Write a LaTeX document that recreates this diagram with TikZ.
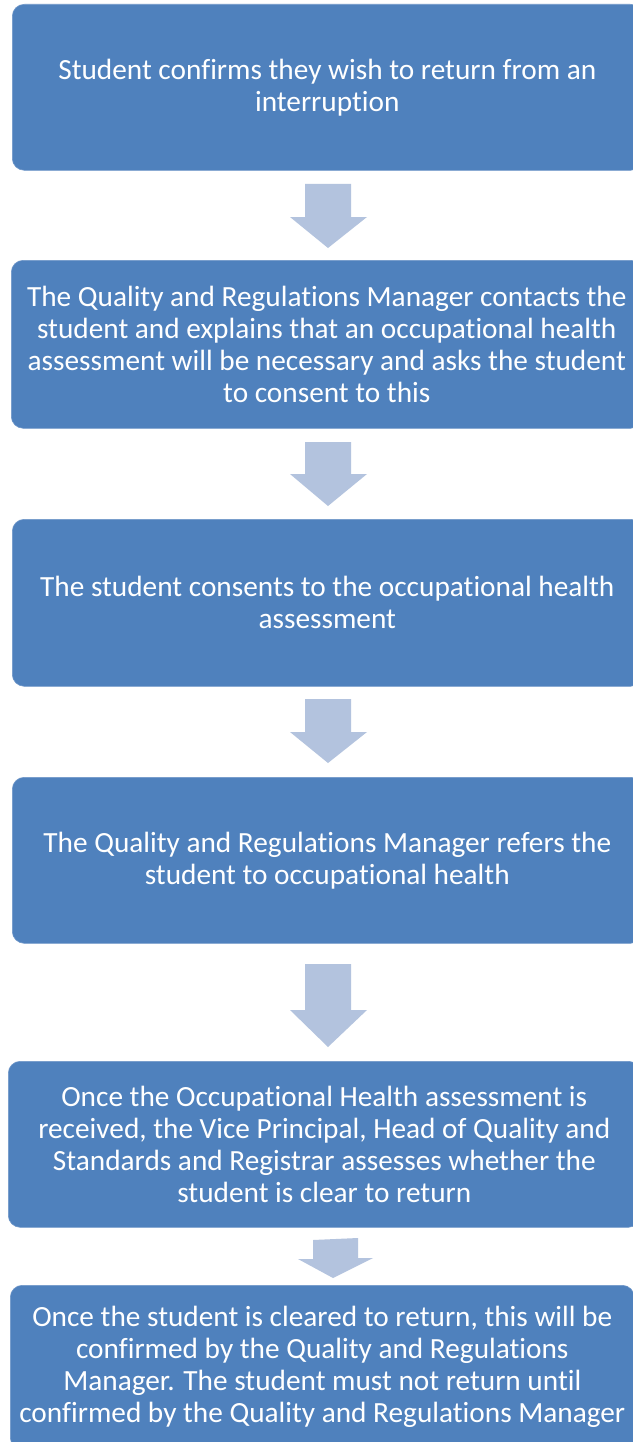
\documentclass[tikz,border=0pt]{standalone}
\usepackage{fontspec}
\setmainfont{Carlito}[Ligatures={NoCommon}]
\definecolor{boxblue}{HTML}{4F81BD}
\definecolor{boxedge}{HTML}{6F97C9}
\definecolor{arrowblue}{HTML}{B3C3DE}
\tikzset{
  stepbox/.style={fill=boxblue, draw=boxedge, line width=0.6bp, rounded corners=12bp,
    text=white, align=center, font=\fontsize{29.3bp}{32bp}\selectfont,
    inner sep=0pt, anchor=north west},
  blockarrow/.style={fill=arrowblue, draw=none}
}
% #1 shaft top, #2 head start, #3 tip (y, from top)
\newcommand{\downblock}[3]{%
  \fill[blockarrow] (305,#1) -- (351,#1) -- (351,#2) -- (367,#2) -- (328,#3)
    -- (290,#2) -- (305,#2) -- cycle;}
\begin{document}
\begin{tikzpicture}[x=1bp,y=-1bp]
\useasboundingbox (0,0) rectangle (633,1442);
\fill[white] (0,0) rectangle (633,1442);
\begin{scope}
\clip (0,0) rectangle (633,1442);
\node[stepbox, minimum width=630bp, minimum height=166bp] (b1) at (12,4)
  {Student confirms they wish to return from an\\interruption};
\node[stepbox, minimum width=631bp, minimum height=168bp] (b2) at (11,260)
  {The Quality and Regulations Manager contacts the\\student and explains that an occupational health\\assessment will be necessary and asks the student\\to consent to this};
\node[stepbox, minimum width=630bp, minimum height=167bp] (b3) at (12,519)
  {The student consents to the occupational health\\assessment};
\node[stepbox, minimum width=630bp, minimum height=166bp] (b4) at (12,777)
  {The Quality and Regulations Manager refers the\\student to occupational health};
\node[stepbox, minimum width=632bp, minimum height=166bp] (b5) at (8,1061)
  {Once the Occupational Health assessment is\\received, the Vice Principal, Head of Quality and\\Standards and Registrar assesses whether the\\student is clear to return};
\node[stepbox, minimum width=624bp, minimum height=164bp] (b6) at (10,1285)
  {Once the student is cleared to return, this will be\\confirmed by the Quality and Regulations\\Manager. The student must not return until\\confirmed by the Quality and Regulations Manager};
\end{scope}
\downblock{184}{217}{248}
\downblock{442}{474}{506}
\downblock{699}{732}{763}
\downblock{964}{1010}{1047}
\fill[blockarrow] (313,1240) -- (358,1238) -- (358,1258) -- (373,1258) -- (333,1278)
  -- (298,1259) -- (313,1259) -- cycle;
\end{tikzpicture}
\end{document}
